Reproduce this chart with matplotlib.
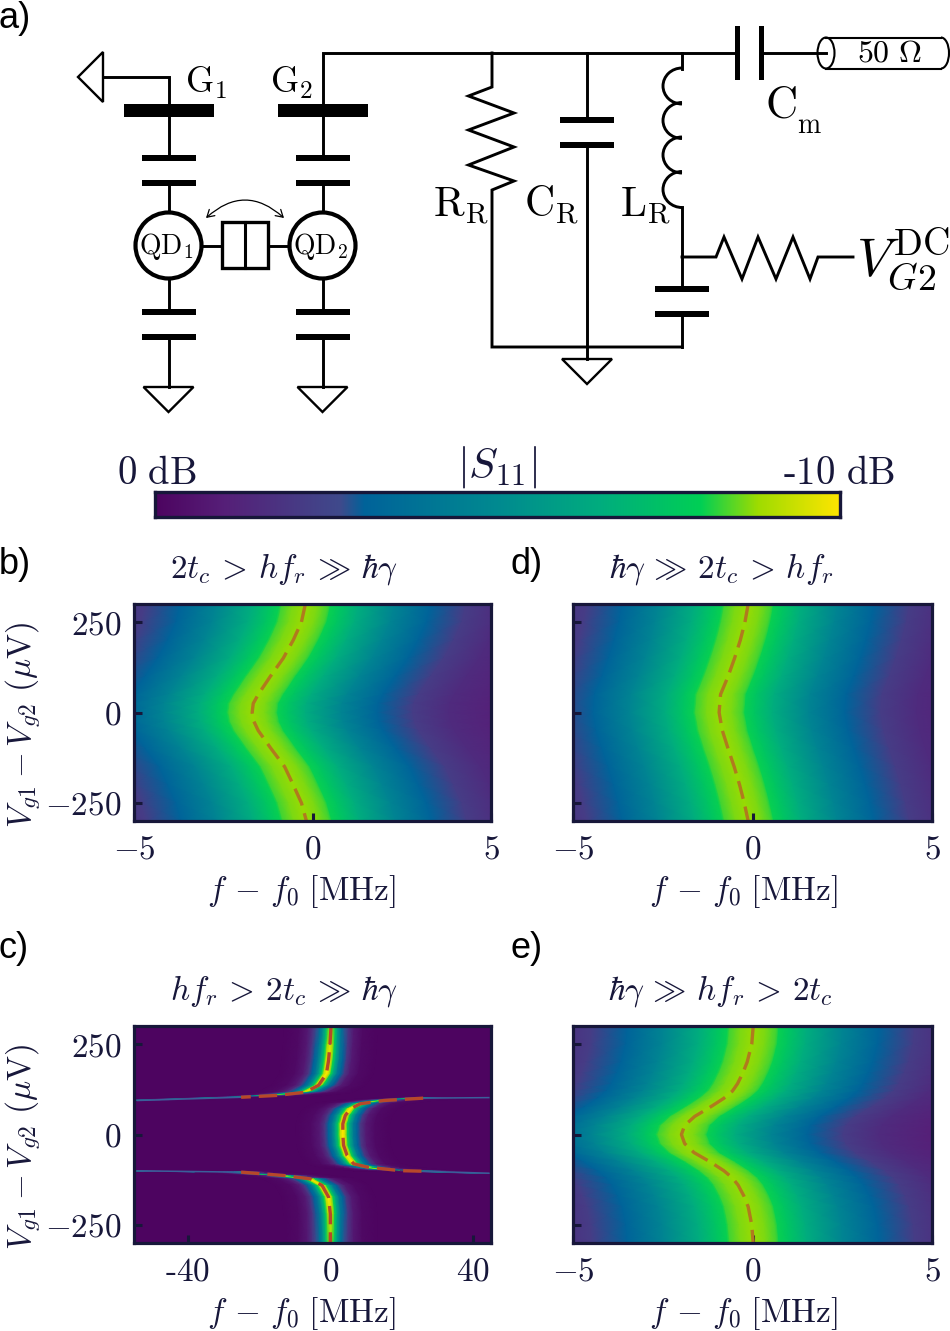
import numpy as np
import matplotlib
matplotlib.use("Agg")
import matplotlib.pyplot as plt
from matplotlib.colors import LinearSegmentedColormap
from matplotlib.patches import Rectangle, Circle, Ellipse, Polygon, Arc, FancyArrowPatch

plt.rcParams['mathtext.fontset'] = 'cm'
plt.rcParams['font.family'] = ['Liberation Sans', 'DejaVu Sans']

W, H = 950, 1331
INK = '#17173a'
fig = plt.figure(figsize=(W / 100, H / 100), dpi=100, facecolor='white')

# ---------- data ----------
cmap_stops = [0.0, 0.10, 0.27, 0.305, 0.50, 0.65, 0.796, 0.88, 1.0]
cmap_colors = ['#4d0460', '#561f78', '#3f4a8c', '#00639a', '#008a90', '#00ad7e',
               '#00cf55', '#9fdc00', '#ffe500']

V_b = [300, 250, 200, 150, 100, 50, 25, 0, -25, -50, -100, -150, -200, -250, -300]
f_b = [-0.20, -0.31, -0.54, -0.82, -1.18, -1.52, -1.66, -1.69, -1.64, -1.52, -1.16, -0.78,
       -0.54, -0.31, -0.17]
V_d = [300, 250, 200, 150, 100, 50, 0, -50, -100, -150, -200, -250, -300]
f_d = [-0.12, -0.21, -0.34, -0.50, -0.68, -0.89, -0.93, -0.84, -0.68, -0.51, -0.36, -0.23, -0.12]
V_e = [300, 250, 200, 170, 140, 120, 100, 75, 50, 25, 0, -25, -50, -75, -100, -120, -140, -170,
       -200, -250, -300]
f_e = [0.02, -0.02, -0.15, -0.27, -0.42, -0.56, -0.80, -1.19, -1.61, -1.89, -1.98, -1.89, -1.63,
       -1.19, -0.80, -0.56, -0.40, -0.24, -0.12, -0.02, 0.02]

offset_wide = [-14, -9, -7, -5.5, -4.5, -3.5, -2.5, -1.5, -1.0, -0.72, -0.65, -0.35, 0,
               0.35, 0.65, 0.72, 1.0, 1.5, 2.5, 3.5, 4.5, 5.5, 7, 9, 14]
level_wide = [.02, .05, .10, .15, .22, .31, .47, .65, .75, .80, .83, .86, .875,
              .86, .83, .80, .75, .65, .47, .31, .22, .15, .10, .05, .02]

# panel c: three resonance branches
V_c_up = [300, 250, 205, 168, 136, 117, 108, 103, 94]
f_c_up = [0.2, -0.1, -0.5, -1.1, -3.3, -7, -15, -25, -54]
lev_c_up = [.88, .95, 1.0, 1.0, 1.0, .95, .85, .62, .28]
V_c_mid = [102, 100.5, 94, 85, 71, 52.6, 29.5, 0, -30, -58, -81, -90, -100, -101.5, -107]
f_c_mid = [44.4, 26, 15, 8.4, 5.6, 4.2, 3.5, 3.5, 3.7, 4.7, 6.5, 10.3, 19.6, 26, 44.4]
lev_c_mid = [.28, .62, .85, .98, 1.0, 1.0, 1.0, 1.0, 1.0, 1.0, 1.0, .98, .85, .62, .28]
V_c_dn = [-100.5, -104, -113.5, -122.7, -141, -173, -220, -300]
f_c_dn = [-54, -25, -13, -5.6, -2.3, -0.5, 0.0, 0.0]
lev_c_dn = [.28, .62, .85, .98, 1.0, 1.0, .95, .88]
offset_c = [-13, -9, -6.5, -5, -4, -3, -2, -1.3, -0.7, 0, 0.7, 1.3, 2, 3, 4, 5, 6.5, 9, 13]
profile_c = [0, .02, .08, .20, .31, .42, .62, .80, .93, 1, .93, .80, .62, .42, .31, .20, .08, .02, 0]

yticks = [-250, 0, 250]
xticks_5 = [-5, 0, 5]
xticks_c = [-40, 0, 40]

cmap = LinearSegmentedColormap.from_list('s11', list(zip(cmap_stops, cmap_colors)), N=512)


def px_axes(x0, y0, x1, y1, **kw):
    return fig.add_axes([x0 / W, 1 - y1 / H, (x1 - x0) / W, (y1 - y0) / H], **kw)


# ---------- schematic, on a pixel-coordinate layer ----------
ax0 = fig.add_axes([0, 0, 1, 1], zorder=0)
ax0.set_xlim(0, W)
ax0.set_ylim(H, 0)
ax0.axis('off')
LW = 2.1


def wire(*pts, lw=LW):
    xs, ys = zip(*pts)
    ax0.plot(xs, ys, color='k', lw=lw, solid_capstyle='projecting', solid_joinstyle='miter')


def plate_h(xc, y, half=27, t=5.5):
    ax0.add_patch(Rectangle((xc - half, y - t / 2), 2 * half, t, fc='k', ec='none'))


def ground(xc, y):
    ax0.add_patch(Polygon([(xc - 25, y), (xc + 25, y), (xc, y + 25)], closed=True, fc='white', ec='k', lw=1.7))


def label(x, y, s, size, **kw):
    ax0.text(x, y, s, fontsize=size, color=kw.pop('color', 'k'), va=kw.pop('va', 'baseline'),
             ha=kw.pop('ha', 'left'), **kw)


for xc, sub in [(168.5, '1'), (322.5, '2')]:
    ax0.add_patch(Rectangle((xc - 44.5, 104), 90, 13, fc='k', ec='none'))
    wire((xc, 117), (xc, 158))
    plate_h(xc, 158)
    plate_h(xc, 183)
    wire((xc, 183), (xc, 212))
    ax0.add_patch(Circle((xc, 245.5), 33, fc='white', ec='k', lw=3.0))
    label(xc - 2, 247, r'$\mathrm{QD}_{%s}$' % sub, 20, ha='center', va='center')
    wire((xc, 279), (xc, 312))
    plate_h(xc, 312)
    plate_h(xc, 337)
    wire((xc, 337), (xc, 387))
    ground(xc, 387)

ax0.add_patch(Polygon([(78, 77), (103, 52), (103, 102)], closed=True, fc='white', ec='k', lw=1.7))
wire((103, 77), (169, 77), (169, 104))
wire((323, 104), (323, 53), (735, 53))

ax0.add_patch(Rectangle((222, 222), 46, 46, fc='white', ec='k', lw=2.4))
wire((245, 222), (245, 268), lw=2.2)
wire((202, 245.5), (222, 245.5))
wire((268, 245.5), (288, 245.5))
ax0.add_patch(FancyArrowPatch((206, 218), (284, 218), connectionstyle='arc3,rad=-0.45',
                              arrowstyle='<->,head_length=5,head_width=3', lw=0.9, color='k',
                              shrinkA=0, shrinkB=0))

label(185, 93, r'$\mathrm{G}_{1}$', 26)
label(270, 93, r'$\mathrm{G}_{2}$', 26)

# readout resonator
wire((492, 53), (492, 87), (468.5, 96), (514, 113), (468.5, 130), (514, 147), (468.5, 165),
     (514, 181), (492, 190), (492, 347), (682, 347))
wire((587, 53), (587, 120))
plate_h(587, 120)
plate_h(587, 145)
wire((587, 145), (587, 359))
ground(587, 359)
wire((682, 53), (682, 69))
for yc in [86, 120.5, 155, 189.5]:
    ax0.add_patch(Arc((682, yc), 38, 36, theta1=90, theta2=270, color='k', lw=LW))
wire((682, 207), (682, 289))
plate_h(682, 289)
plate_h(682, 314)
wire((682, 314), (682, 347))
wire((682, 257), (716, 257), (724, 237), (742, 279), (758, 237), (776, 279), (793, 237),
     (810, 279), (818, 257), (853, 257))
ax0.add_patch(Rectangle((734.5, 26), 5.5, 54, fc='k', ec='none'))
ax0.add_patch(Rectangle((758.5, 26), 5.5, 54, fc='k', ec='none'))
wire((762, 53), (826, 53))
ax0.add_patch(Arc((941, 53), 16, 31, theta1=-90, theta2=90, color='k', lw=1.5))
ax0.plot([826, 941], [37.5, 37.5], color='k', lw=1.5)
ax0.plot([826, 941], [68.5, 68.5], color='k', lw=1.5)
ax0.add_patch(Ellipse((826, 53), 17, 31, fc='none', ec='k', lw=1.5))
label(889, 54, r'$\mathrm{50}\ \Omega$', 23, ha='center', va='center')

label(433, 217, r'$\mathrm{R}_{\mathrm{R}}$', 30)
label(524, 217, r'$\mathrm{C}_{\mathrm{R}}$', 30)
label(620, 217, r'$\mathrm{L}_{\mathrm{R}}$', 30)
label(765, 118, r'$\mathrm{C}$', 32)
label(797, 133, r'$\mathrm{m}$', 20)
label(856, 276, r'$V_{G2}^{\mathrm{DC}}$', 39)

# ---------- colour bar ----------
cax = px_axes(155, 492, 840, 517, zorder=2)
cax.imshow(np.linspace(0, 1, 512).reshape(1, -1), aspect='auto', cmap=cmap, vmin=0, vmax=1)
cax.set_xticks([])
cax.set_yticks([])
for s in cax.spines.values():
    s.set_linewidth(2.4)
    s.set_color(INK)
label(117, 484, r'$\mathrm{0\ dB}$', 28, color=INK)
label(783, 484, r'$\mathrm{\text{-}10\ dB}$', 28, color=INK)
label(457, 477, r'$|S_{11}|$', 31, color=INK)


# ---------- resonance panels ----------
def ridge_mesh(ax, V, f, offs, prof):
    X = np.asarray(f)[:, None] + np.asarray(offs)[None, :]
    Y = np.repeat(np.asarray(V, float)[:, None], len(offs), axis=1)
    Z = np.repeat(np.asarray(prof, float)[None, :], len(V), axis=0)
    ax.pcolormesh(X, Y, Z, shading='gouraud', cmap=cmap, vmin=0, vmax=1, rasterized=True)


def style(ax, xticks, xlabels, ylab, title, xlim, tx, lx):
    ax.set_xlim(*xlim)
    ax.set_ylim(-300, 300)
    ax.set_xticks(xticks)
    ax.set_xticklabels(xlabels)
    ax.set_yticks(yticks)
    ax.set_yticklabels([r'$-250$', r'$0$', r'$250$'] if ylab else [])
    ax.tick_params(direction='in', length=6, width=2.2, color=INK, labelcolor=INK,
                   labelsize=24, top=False, right=False, pad=9)
    ax.tick_params(axis='x', pad=10)
    for s in ax.spines.values():
        s.set_linewidth(2.3)
        s.set_color(INK)
    ax.set_title(title, fontsize=24, color=INK, x=tx, pad=19, ha='center')
    ax.set_xlabel(r'$f\,-\,f_0\;[\mathrm{MHz}]$', fontsize=24, color=INK, x=lx, labelpad=5)
    if ylab:
        ax.set_ylabel(r'$V_{g1}-V_{g2}\ (\mu\mathrm{V})$', fontsize=24, color=INK, y=0.44, labelpad=2)


DASH = (0, (5.5, 2.4))
BROWN = '#b07a1e'
labels5 = [r'$-5$', r'$0$', r'$5$']

axb = px_axes(134, 604, 491, 821, zorder=3)
ridge_mesh(axb, V_b, f_b, offset_wide, level_wide)
axb.plot(f_b, V_b, color=BROWN, lw=2.4, ls=DASH)
style(axb, xticks_5, labels5, True, r'$2t_c\,>\,hf_r\,\gg\,\hbar\gamma$', (-5, 5), 0.42, 0.47)

axd = px_axes(573, 604, 932, 821, zorder=3)
ridge_mesh(axd, V_d, f_d, offset_wide, level_wide)
axd.plot(f_d, V_d, color=BROWN, lw=2.4, ls=DASH)
style(axd, xticks_5, labels5, False, r'$\hbar\gamma\,\gg\,2t_c\,>\,hf_r$', (-5, 5), 0.412, 0.475)

axe = px_axes(573, 1026, 932, 1243, zorder=3)
ridge_mesh(axe, V_e, f_e, offset_wide, level_wide)
axe.plot(f_e, V_e, color=BROWN, lw=2.4, ls=DASH)
style(axe, xticks_5, labels5, False, r'$\hbar\gamma\,\gg\,hf_r\,>\,2t_c$', (-5, 5), 0.412, 0.475)

axc = px_axes(134, 1026, 491, 1243, zorder=3)
axc.set_facecolor(cmap(0.0))
for V, f, lev in [(V_c_up, f_c_up, lev_c_up), (V_c_mid, f_c_mid, lev_c_mid), (V_c_dn, f_c_dn, lev_c_dn)]:
    fa, Va = np.asarray(f), np.asarray(V)
    X = fa[:, None] + np.asarray(offset_c)[None, :]
    Y = np.repeat(Va.astype(float)[:, None], len(offset_c), axis=1)
    Z = np.asarray(lev)[:, None] * np.asarray(profile_c)[None, :]
    axc.pcolormesh(X, Y, Z, shading='gouraud', cmap=cmap, vmin=0, vmax=1, rasterized=True)
    far = np.abs(fa) >= 25
    if fa[0] > 0:  # the middle branch has a far tail at both of its ends
        axc.plot(fa[:2], Va[:2], color='#3b5f9a', lw=1.1)
        axc.plot(fa[-2:], Va[-2:], color='#3b5f9a', lw=1.1)
    else:
        axc.plot(fa[far], Va[far], color='#3b5f9a', lw=1.1)
    mask = np.abs(fa) <= 27
    axc.plot(fa[mask], Va[mask], color='#b8482a', lw=2.4, ls=DASH)
style(axc, xticks_c, [r'$\text{-}40$', r'$0$', r'$40$'], True,
      r'$hf_r\,>\,2t_c\,\gg\,\hbar\gamma$', (-55, 45), 0.42, 0.47)

# ---------- panel letters ----------
for x, y, s in [(-1, 28, 'a)'), (-1, 574, 'b)'), (-1, 958, 'c)'), (510, 574, 'd)'), (510, 958, 'e)')]:
    ax0.text(x, y, s, fontsize=26, color='k', va='baseline', ha='left')

fig.savefig('out.png', dpi=100, facecolor='white')
